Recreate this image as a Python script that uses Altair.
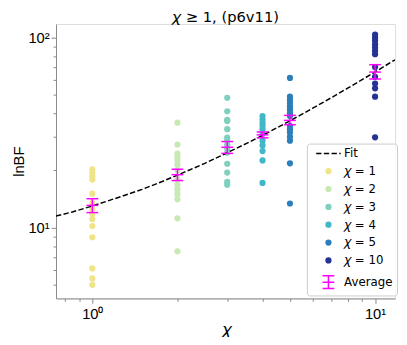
import altair as alt
import pandas as pd

# ---- data ----
chi_values = [1, 2, 3, 4, 5, 10]
lnbf_chi1 = [20.3, 19.4, 18.6, 17.9, 15.1, 13.5, 12.5, 11.8, 11.1, 10.2, 8.9, 6.1, 5.4, 5.0]
lnbf_chi2 = [35.7, 27.4, 24.5, 23.5, 22.6, 21.4, 20.0, 18.0, 16.8, 15.9, 15.0, 14.1, 11.2, 7.5]
lnbf_chi3 = [48.3, 41.0, 36.9, 36.4, 33.0, 29.8, 28.7, 27.3, 26.0, 24.8, 21.7, 19.5, 17.4, 16.8]
lnbf_chi4 = [38.7, 37.1, 35.6, 34.3, 33.0, 31.1, 28.7, 27.1, 25.3, 22.6, 17.2]
lnbf_chi5 = [61.4, 48.9, 47.1, 45.3, 43.6, 41.9, 40.2, 38.7, 34.3, 33.0, 31.7, 30.1, 28.7, 21.8, 13.4]
lnbf_chi10 = [103.9, 100.0, 96.3, 92.2, 88.7, 85.3, 81.9, 70.0, 62.2, 57.4, 54.1, 48.9, 29.9]

avg_mean = [13.1, 19.0, 26.5, 30.8, 36.7, 65.9]
avg_low = [12.0, 17.7, 24.6, 29.7, 34.8, 60.6]
avg_high = [14.2, 20.3, 28.4, 31.9, 39.0, 72.1]

fit_chi = [0.744, 0.85, 1.0, 1.25, 1.5, 1.75, 2.0, 2.5, 3.0, 3.5, 4.0, 5.0, 6.0, 7.0, 8.0, 9.0, 10.0, 11.77]
fit_lnbf = [11.5, 12.1, 13.0, 14.5, 15.9, 17.4, 18.9, 21.8, 24.8, 27.7, 30.6, 36.5, 42.4, 48.3, 54.2, 60.1, 66.0, 76.5]

point_labels = ["𝜒 = 1", "𝜒 = 2", "𝜒 = 3", "𝜒 = 4", "𝜒 = 5", "𝜒 = 10"]
point_colors = ["#f0e48b", "#c7e9b4", "#7fd0bd", "#41b8c7", "#2c7fbb", "#253494"]
legend_labels = ["Fit"] + point_labels + ["Average"]

x_ticks = [0.8, 0.9, 1, 2, 3, 4, 5, 6, 7, 8, 9, 10]
y_ticks = [5, 6, 7, 8, 9, 10, 20, 30, 40, 50, 60, 70, 80, 90, 100]

# ---- tables ----
series = [lnbf_chi1, lnbf_chi2, lnbf_chi3, lnbf_chi4, lnbf_chi5, lnbf_chi10]
rows = []
for c, lab, vals in zip(chi_values, point_labels, series):
    for v in vals:
        rows.append({"chi": c, "lnbf": v, "label": lab})
points_df = pd.DataFrame(rows)

fit_df = pd.DataFrame({"chi": fit_chi, "lnbf": fit_lnbf})
avg_df = pd.DataFrame({"chi": chi_values, "mean": avg_mean, "low": avg_low, "high": avg_high})
caps_df = avg_df.melt(id_vars="chi", value_vars=["low", "mean", "high"], value_name="lnbf")

fit_path = "M-5.1,0H-2.9M-1.9,0H0.3M1.3,0H3.5M4.5,0H5.1"
avg_path = "M0,-2.65V2.65M-2.45,-2.65H2.45M-2.45,2.65H2.45M-2.45,0H2.45"

major_test = "indexof([1, 10, 100], datum.value) >= 0"
tick_size = {"condition": {"test": major_test, "value": 5}, "value": 3}

x_scale = alt.Scale(type="log", domain=[0.744, 11.77], nice=False)
y_scale = alt.Scale(type="log", domain=[4.24, 118], nice=False)

x_enc = alt.X(
    "chi:Q", scale=x_scale,
    axis=alt.Axis(
        values=x_ticks, grid=False,
        labelExpr="datum.value == 1 ? '10⁰' : datum.value == 10 ? '10¹' : ''",
        tickSize=tick_size, title="𝜒", titleFontSize=16, titleFontWeight="normal",
        titlePadding=1, titleBaseline="top", labelFontSize=15, labelPadding=3, labelFlush=False,
    ),
)
y_enc = alt.Y(
    "lnbf:Q", scale=y_scale,
    axis=alt.Axis(
        values=y_ticks, grid=False,
        labelExpr="datum.value == 10 ? '10¹' : datum.value == 100 ? '10²' : ''",
        tickSize=tick_size, title="lnBF", titleFontSize=15, titleFontWeight="normal",
        titlePadding=1, labelFontSize=15, labelPadding=2, labelFlush=False,
    ),
)

legend = alt.Legend(
    title=None, orient="none", legendX=256, legendY=122,
    symbolSize=24, symbolStrokeWidth=1.5, symbolOffset=12,
    labelOffset=10, labelFontSize=12, labelFont="DejaVu Sans", labelColor="black",
    rowPadding=6.2, padding=4, strokeColor="#cccccc", fillColor="rgba(255,255,255,0.8)",
    cornerRadius=3, labelLimit=200,
)

points = alt.Chart(points_df).mark_point(filled=True, size=40, strokeWidth=0, opacity=1).encode(
    x=x_enc, y=y_enc,
    fill=alt.Fill("label:N", scale=alt.Scale(domain=legend_labels,
                  range=["transparent"] + point_colors + ["transparent"]), legend=legend),
    stroke=alt.Stroke("label:N", scale=alt.Scale(domain=legend_labels,
                  range=["black"] + point_colors + ["#ff00ff"]), legend=legend),
    shape=alt.Shape("label:N", scale=alt.Scale(domain=legend_labels,
                  range=[fit_path] + ["circle"] * 6 + [avg_path]), legend=legend),
)

fit = alt.Chart(fit_df).mark_line(color="black", strokeWidth=1.5, strokeDash=[5.5, 2.4], clip=True).encode(
    x=alt.X("chi:Q", scale=x_scale), y=alt.Y("lnbf:Q", scale=y_scale),
)

bars = alt.Chart(avg_df).mark_rule(color="#ff00ff", strokeWidth=1.5).encode(
    x=alt.X("chi:Q", scale=x_scale), y=alt.Y("low:Q", scale=y_scale), y2="high:Q",
)
caps = alt.Chart(caps_df).mark_tick(color="#ff00ff", orient="horizontal", size=12, thickness=1.5, opacity=1).encode(
    x=alt.X("chi:Q", scale=x_scale), y=alt.Y("lnbf:Q", scale=y_scale),
)

chart = alt.layer(points, fit, bars, caps).properties(
    width=346, height=280,
    autosize=alt.AutoSizeParams(type="none"),
    padding={"left": 49, "top": 13, "right": 4, "bottom": 36},
    title=alt.Title("𝜒 ≥ 1, (p6v11)", fontSize=15, fontWeight="normal", offset=-12.5,
                    baseline="alphabetic", font="DejaVu Sans", color="black"),
).configure_view(stroke="black", strokeWidth=1).configure_axis(
    grid=False, domain=False, tickColor="black", tickWidth=1, labelColor="black",
    titleColor="black", labelFont="DejaVu Sans", titleFont="DejaVu Sans",
).configure(background="white")

chart.save("out.html", embed_options={"renderer": "svg", "actions": False})
